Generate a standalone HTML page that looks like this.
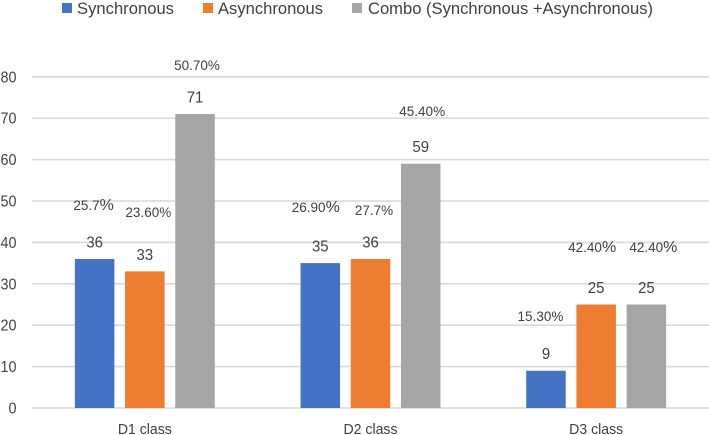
<!DOCTYPE html>
<html lang="en">
<head>
<meta charset="utf-8">
<title>Class preference chart</title>
<style>
html,body{margin:0;padding:0;background:#fff;width:709px;height:435px;overflow:hidden}
svg{display:block;font-family:"Liberation Sans",sans-serif}
text{fill:#404040}
</style>
</head>
<body>
<svg id="chart" width="709" height="435" viewBox="0 0 709 435" xmlns="http://www.w3.org/2000/svg">
  <g>
    <g>
      <rect x="62" y="3" width="10" height="10" fill="#4472c4"></rect>
      <text x="77" y="14" font-size="17" textLength="97" lengthAdjust="spacingAndGlyphs">Synchronous</text>
    </g>
    <g>
      <rect x="203" y="3" width="10" height="10" fill="#ed7d31"></rect>
      <text x="218" y="14" font-size="17" textLength="105" lengthAdjust="spacingAndGlyphs">Asynchronous</text>
    </g>
    <g>
      <rect x="352" y="3" width="10" height="10" fill="#a5a5a5"></rect>
      <text x="368" y="14" font-size="17" textLength="285" lengthAdjust="spacingAndGlyphs">Combo (Synchronous +Asynchronous)</text>
    </g>
  </g>
  <g id="grid"></g>
  <g id="yaxis"></g>
  <g id="bars"></g>
  <g id="values"></g>
  <g id="percents"></g>
  <g id="xaxis"></g>
</svg>
<script>
var categories = ['D1 class', 'D2 class', 'D3 class'];
var seriesKeys = ['synchronous', 'asynchronous', 'combo'];
var seriesColors = ['#4472c4', '#ed7d31', '#a5a5a5'];
var synchronous = [36, 35, 9];
var asynchronous = [33, 36, 25];
var combo = [71, 59, 25];
var synchronousPct = ['25.7', '26.90', '15.30'];
var asynchronousPct = ['23.60', '27.7', '42.40'];
var comboPct = ['50.70', '45.40', '42.40'];
var yTicks = [0, 10, 20, 30, 40, 50, 60, 70, 80];

// Hand-placed annotation nudges from the source figure (series x category)
var pctNudgeX = [[-1, -4.5, -5.5], [3.5, 3.5, -4], [2, 1.5, 7]];
var pctNudgeY = [[54, 56, 54.7], [59.4, 49, 57.5], [49, 52.7, 57.5]];
var pctBigSign = [[true, true, false], [false, false, true], [false, false, true]];

var seriesValues = [synchronous, asynchronous, combo];
var seriesPct = [synchronousPct, asynchronousPct, comboPct];
var NS = 'http://www.w3.org/2000/svg';
var plotLeft = 32, plotRight = 709, y0 = 408, pxPerUnit = 4.14;
var barWidth = 39.5, barStep = 50.2;

function yScale(v) { return y0 - v * pxPerUnit; }
function xBand(i) { return plotLeft + (plotRight - plotLeft) * (i + 0.5) / categories.length; }
function xBar(c, s) { return xBand(c) + (s - 1) * barStep; }
function make(tag, attrs, parent) {
  var el = document.createElementNS(NS, tag);
  for (var k in attrs) el.setAttribute(k, attrs[k]);
  parent.appendChild(el);
  return el;
}

var gridG = document.getElementById('grid');
var yG = document.getElementById('yaxis');
yTicks.forEach(function (t) {
  var line = make('line', {x1: plotLeft, x2: plotRight, y1: yScale(t), y2: yScale(t), stroke: '#d9d9d9', 'stroke-width': 1.6}, gridG);
  
  
  var label = make('text', {x: 16.5, y: yScale(t) + 5.5, 'text-anchor': 'end', 'font-size': 15.5, textLength: String(t).length * 8, lengthAdjust: 'spacingAndGlyphs'}, yG);
  label.textContent = t;
  
  
});

var barsG = document.getElementById('bars');
var valuesG = document.getElementById('values');
var pctG = document.getElementById('percents');
var xG = document.getElementById('xaxis');

categories.forEach(function (cat, c) {
  var catLabel = make('text', {x: xBand(c), y: 434, 'text-anchor': 'middle', 'font-size': 15, textLength: 54, lengthAdjust: 'spacingAndGlyphs'}, xG);
  catLabel.textContent = cat;
  
  

  seriesValues.forEach(function (vals, s) {
    var v = vals[c];
    var cx = xBar(c, s);
    var top = yScale(v);
    var bar = make('rect', {x: cx - barWidth / 2, y: top, width: barWidth, height: y0 - top, fill: seriesColors[s]}, barsG);
    
    

    var val = make('text', {x: cx, y: top - 17.5 + 6, 'text-anchor': 'middle', 'font-size': 16, textLength: String(v).length * 8.3, lengthAdjust: 'spacingAndGlyphs'}, valuesG);
    val.textContent = v;
    
    

    var pct = make('text', {x: cx + pctNudgeX[s][c], y: top - pctNudgeY[s][c] + 5, 'text-anchor': 'middle', 'font-size': 13.5, fill: '#505050'}, pctG);
    
    
    pct.appendChild(document.createTextNode(seriesPct[s][c]));
    var sign = make('tspan', {'font-size': pctBigSign[s][c] ? 16 : 13.5}, pct);
    sign.textContent = '%';
  });
});
</script>
</body>
</html>
